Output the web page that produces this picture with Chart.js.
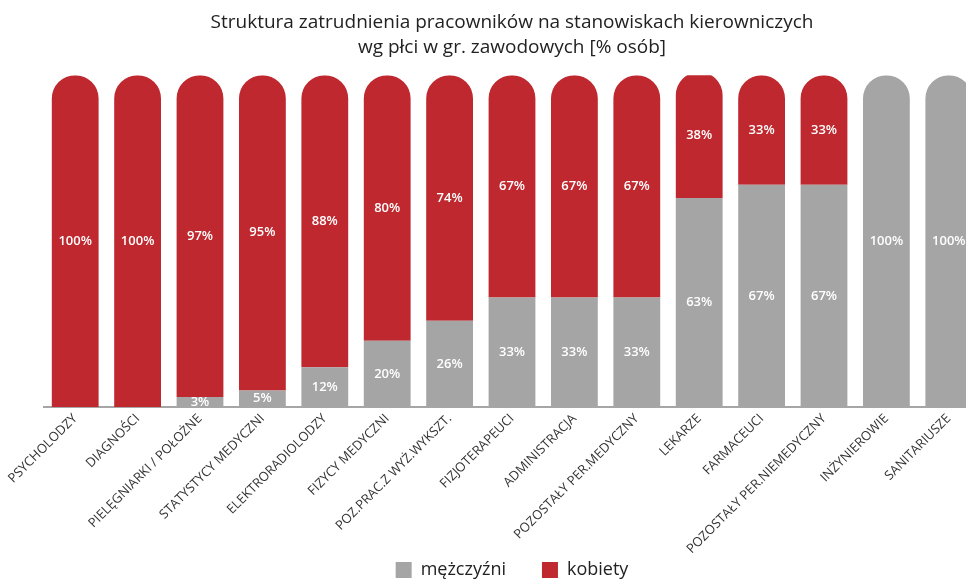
<!DOCTYPE html>
<html lang="pl">
<head>
<meta charset="utf-8">
<script src="https://cdn.jsdelivr.net/npm/chart.js@4.4.1/dist/chart.umd.min.js"></script>
<style>
  html, body { margin: 0; padding: 0; background: #fff; overflow: hidden; }
  #wrap { position: absolute; left: 0; top: 0; width: 1000px; height: 589px; }
</style>
</head>
<body>
<div id="wrap"><canvas id="chart"></canvas></div>
<script>
const categories = [
  'PSYCHOLODZY', 'DIAGNOŚCI', 'PIELĘGNIARKI / POŁOŻNE', 'STATYSTYCY MEDYCZNI',
  'ELEKTRORADIOLODZY', 'FIZYCY MEDYCZNI', 'POZ.PRAC.Z WYŻ.WYKSZT.', 'FIZJOTERAPEUCI',
  'ADMINISTRACJA', 'POZOSTAŁY PER.MEDYCZNY', 'LEKARZE', 'FARMACEUCI',
  'POZOSTAŁY PER.NIEMEDYCZNY', 'INŻYNIEROWIE', 'SANITARIUSZE'
];
const men   = [0, 0, 3, 5, 12, 20, 26, 33, 33, 33, 63, 67, 67, 100, 100];
const women = [100, 100, 97, 95, 88, 80, 74, 67, 67, 67, 38, 33, 33, 0, 0];
const titleLines = ['Struktura zatrudnienia pracowników na stanowiskach kierowniczych', 'wg płci w gr. zawodowych [% osób]'];

const GREY = '#A5A5A5';
const RED = '#BE282E';

// round only the top of each stack
const topRadius = (ctx) => {
  const i = ctx.dataIndex;
  const isTop = ctx.datasetIndex === 1 ? women[i] > 0 : women[i] === 0;
  return isTop ? { topLeft: 40, topRight: 40, bottomLeft: 0, bottomRight: 0 } : 0;
};

const barLabels = {
  id: 'barLabels',
  afterDatasetsDraw(chart) {
    const ctx = chart.ctx;
    ctx.save();
    ctx.fillStyle = '#fff';
    ctx.font = '600 13px "Open Sans"';
    ctx.textAlign = 'center';
    ctx.textBaseline = 'middle';
    chart.data.datasets.forEach((ds, di) => {
      chart.getDatasetMeta(di).data.forEach((bar, i) => {
        const v = ds.data[i];
        if (!v) return;
        ctx.fillText(v + '%', bar.x, (bar.y + bar.base) / 2);
      });
    });
    ctx.restore();
  }
};

// let the long rotated x labels run past the axis box (they sit beside the legend)
const unclipTicks = {
  id: 'unclipTicks',
  afterLayout(chart) { chart.scales.x.bottom = chart.height; }
};

new Chart(document.getElementById('chart'), {
  type: 'bar',
  data: {
    labels: categories,
    datasets: [
      { label: 'mężczyźni', data: men, backgroundColor: GREY, borderRadius: topRadius, borderSkipped: 'start' },
      { label: 'kobiety', data: women, backgroundColor: RED, borderRadius: topRadius, borderSkipped: 'start' }
    ]
  },
  options: {
    responsive: true,
    maintainAspectRatio: false,
    animation: false,
    layout: { padding: { left: 44, right: 20, top: 0, bottom: 0 } },
    datasets: { bar: { barPercentage: 0.75, categoryPercentage: 1 } },
    plugins: {
      title: {
        display: true,
        text: titleLines,
        color: '#222',
        font: { size: 19, family: 'Open Sans', weight: 'normal', lineHeight: 1.32 },
        padding: { top: 10, bottom: 15 }
      },
      legend: {
        position: 'bottom',
        labels: {
          color: '#222',
          boxWidth: 16,
          boxHeight: 16,
          padding: 36,
          font: { size: 18, family: 'Open Sans' }
        }
      },
      tooltip: { enabled: false }
    },
    scales: {
      x: {
        stacked: true,
        grid: { display: false, drawTicks: false },
        border: { display: true, color: '#A6A6A6', width: 2 },
        ticks: {
          color: '#333',
          autoSkip: false,
          minRotation: 45,
          maxRotation: 45,
          padding: 4,
          font: { size: 13, family: 'Open Sans' }
        },
        afterFit: (scale) => { scale.height = 118; }
      },
      y: {
        stacked: true,
        display: false,
        min: 0,
        max: 100
      }
    }
  },
  plugins: [barLabels, unclipTicks]
});
</script>
</body>
</html>
